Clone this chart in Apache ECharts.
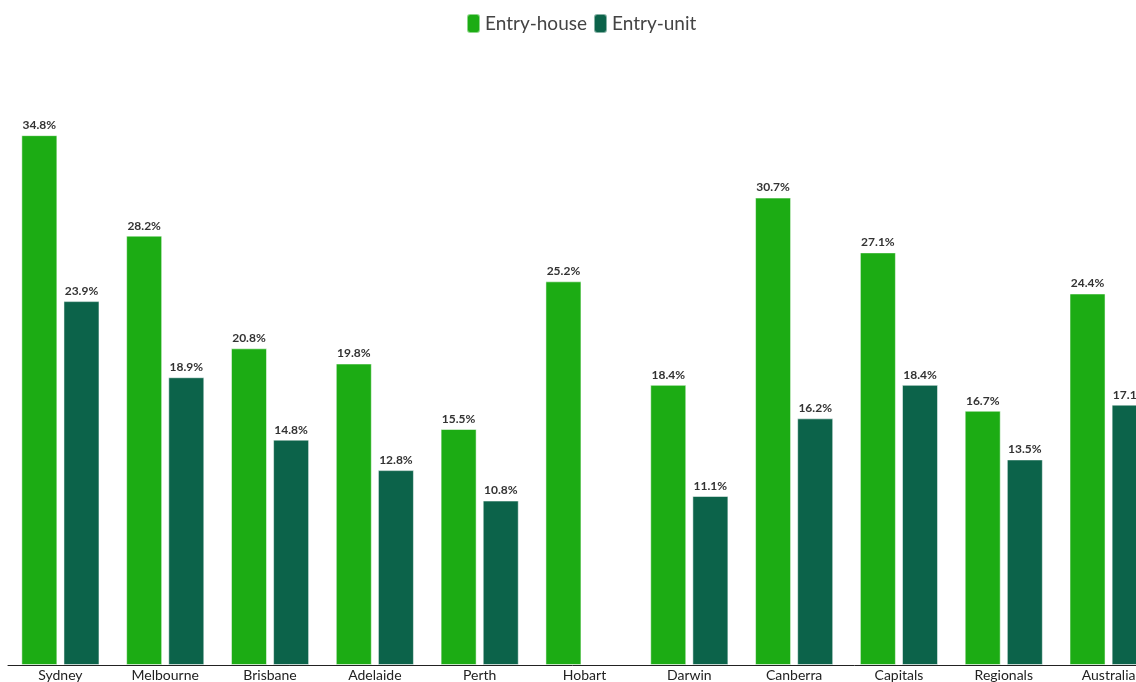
<!DOCTYPE html>
<html><head><meta charset="utf-8">
<script src="https://cdn.jsdelivr.net/npm/echarts@6/dist/echarts.min.js"></script>
<style>html,body{margin:0;padding:0;background:#fff}#c{width:1136px;height:682px}</style>
</head><body><div id="c"></div>
<script>
const categories = ['Sydney','Melbourne','Brisbane','Adelaide','Perth','Hobart','Darwin','Canberra','Capitals','Regionals','Australia'];
const entryHouse = [34.8, 28.2, 20.8, 19.8, 15.5, 25.2, 18.4, 30.7, 27.1, 16.7, 24.4];
const entryUnit = [23.9, 18.9, 14.8, 12.8, 10.8, null, 11.1, 16.2, 18.4, 13.5, 17.1];
const seriesNames = ['Entry-house', 'Entry-unit'];

const chart = echarts.init(document.getElementById('c'));
const fontFam = 'Lato, "Open Sans", sans-serif';
const lbl = {show:true, position:'top', distance:4, formatter: p => p.value.toFixed(1) + '%', fontSize:12, fontWeight:'bold', color:'#333', fontFamily: fontFam};
chart.setOption({
  animation:false,
  legend:{top:8, left:461, itemWidth:13, itemHeight:19, itemGap:6, icon:'roundRect',
    textStyle:{fontSize:19, color:'#444', fontFamily: fontFam}},
  grid:{left:8, top:56, width:1153, bottom:17, containLabel:false, outerBoundsMode:'none'},
  xAxis:{type:'category', data:categories,
    axisLine:{lineStyle:{color:'#222', width:1}}, axisTick:{show:false},
    axisLabel:{color:'#222', fontSize:14, margin:3, fontFamily: fontFam, interval:0}},
  yAxis:{type:'value', min:0, max:40, show:false},
  series:[
    {name:seriesNames[0], type:'bar', data:entryHouse, barWidth:36, barGap:'17%',
      itemStyle:{color:'#1cac14', borderColor:'rgba(255,255,255,0.5)', borderWidth:1}, label:lbl},
    {name:seriesNames[1], type:'bar', data:entryUnit, barWidth:36,
      itemStyle:{color:'#0c634a', borderColor:'rgba(255,255,255,0.5)', borderWidth:1}, label:lbl}
  ]
});
</script></body></html>
